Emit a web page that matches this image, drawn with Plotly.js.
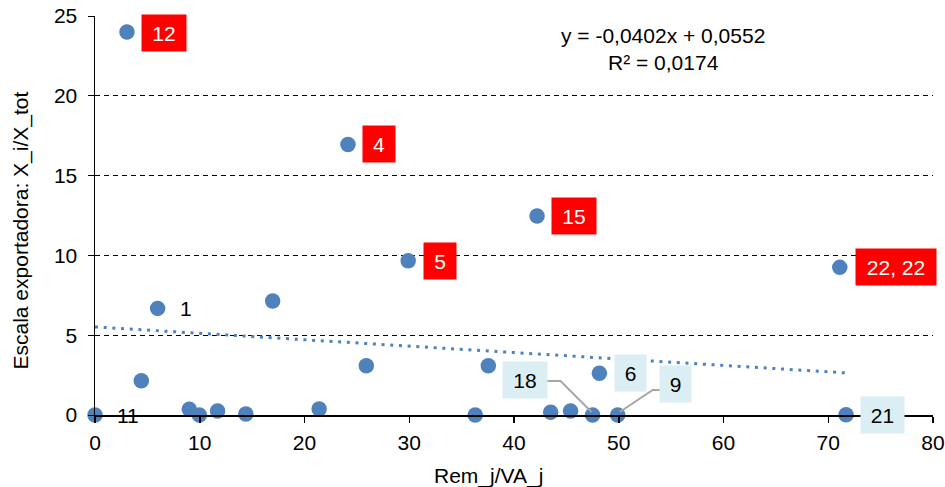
<!DOCTYPE html>
<html>
<head>
<meta charset="utf-8">
<script src="https://cdn.plot.ly/plotly-3.0.1.min.js"></script>
<style>html,body{margin:0;padding:0;background:#fff;}#chart{width:945px;height:487px;}</style>
</head>
<body>
<div id="chart"></div>
<script>
// ---- data ----
const xVals = [3.05, 24.15, 29.9, 42.2, 71.1, 5.98, 16.96, 4.42, 0, 9.0, 9.96, 11.7, 14.4, 21.4, 25.9, 36.3, 37.55, 43.5, 45.4, 47.5, 49.9, 48.15, 71.7];
const yVals = [24.0, 16.95, 9.67, 12.47, 9.25, 6.68, 7.14, 2.15, 0, 0.36, 0.0, 0.25, 0.06, 0.38, 3.09, 0, 3.09, 0.17, 0.25, 0, 0, 2.61, 0.02];
const pointLabels = ['12', '4', '5', '15', '22, 22', '1', '', '', '11', '', '', '', '', '', '', '', '', '', '', '18', '9', '6', '21'];
const trendSlope = -0.0402;     // per unit of x (shown as -0,0402x)
const trendIntercept = 5.52;    // 0,0552 expressed in %
const equationText = 'y = -0,0402x + 0,0552<br>R² = 0,0174';
const xTitle = 'Rem_j/VA_j';
const yTitle = 'Escala exportadora: X_i/X_tot';

// ---- label styling (position offsets in px, box style) ----
const labelStyle = {
  '12':     {dx: 37, dy: -1, kind: 'red', w: 42},
  '4':      {dx: 31, dy: 0, kind: 'red', w: 30},
  '5':      {dx: 32, dy: 0, kind: 'red', w: 30},
  '15':     {dx: 37, dy: 0, kind: 'red', w: 42},
  '22, 22': {dx: 56, dy: 0, kind: 'red', w: 78},
  '21':     {dx: 36, dy: 0, kind: 'blue', w: 41},
  '18':     {dx: -68, dy: 35, kind: 'blue', w: 42},
  '6':      {dx: 31, dy: 0, kind: 'blue', w: 29},
  '9':      {dx: 58, dy: 31, kind: 'blue', w: 29},
  '1':      {dx: 28, dy: 0, kind: 'plain'},
  '11':     {dx: 33, dy: 0, kind: 'plain'}
};
const leaders = {
  '18': 'M -47,34 L -32,34 L -1,3',
  '9':  'M 2,3 L 35,25 L 44,25'
};

const FONT = 'Liberation Sans, Arial, sans-serif';
const FS = 21;
const blue = '#4F81BD';

const annotations = [];
const shapes = [];
pointLabels.forEach((lab, i) => {
  if (!lab) return;
  const st = labelStyle[lab];
  const a = {
    x: xVals[i], y: yVals[i], xref: 'x', yref: 'y',
    text: lab, showarrow: false,
    xshift: st.dx, yshift: st.dy,
    font: {family: FONT, size: FS, color: '#000'}
  };
  if (st.kind === 'red') {
    a.bgcolor = '#FF0000'; a.font.color = '#fff'; a.width = st.w; a.height = 34;
  } else if (st.kind === 'blue') {
    a.bgcolor = '#DAEEF3'; a.width = st.w; a.height = 34;
  }
  annotations.push(a);
  if (leaders[lab]) {
    shapes.push({
      type: 'path', xref: 'x', yref: 'y', xsizemode: 'pixel', ysizemode: 'pixel',
      xanchor: xVals[i], yanchor: yVals[i], path: leaders[lab],
      line: {color: '#A6A6A6', width: 2}, layer: 'above'
    });
  }
});
// regression equation
annotations.push({
  xref: 'paper', yref: 'paper', x: 0.678, y: 0.918, xanchor: 'center', yanchor: 'middle',
  text: equationText, showarrow: false, align: 'center',
  font: {family: FONT, size: FS, color: '#000'}
});
// axis titles (placed as in the reference)
annotations.push({
  xref: 'paper', yref: 'paper', x: -0.088, y: 0.463, xanchor: 'center', yanchor: 'middle',
  text: yTitle, textangle: -90, showarrow: false,
  font: {family: FONT, size: FS, color: '#000'}
});
annotations.push({
  xref: 'paper', yref: 'paper', x: 0.469, y: -0.153, xanchor: 'center', yanchor: 'middle',
  text: xTitle, showarrow: false,
  font: {family: FONT, size: FS, color: '#000'}
});

const xMax = Math.max(...xVals);
const trendX = [0, xMax];
const trendY = trendX.map(v => trendIntercept + trendSlope * v);

const traces = [
  {
    x: trendX, y: trendY, mode: 'lines', type: 'scatter', hoverinfo: 'skip',
    line: {color: blue, width: 3, dash: '3px,5.7px'}, cliponaxis: false
  },
  {
    x: xVals, y: yVals, mode: 'markers', type: 'scatter', cliponaxis: false,
    marker: {color: blue, size: 15.5, line: {width: 0}}
  }
];

const layout = {
  width: 945, height: 487,
  margin: {l: 95, r: 12, t: 16, b: 72},
  paper_bgcolor: '#fff', plot_bgcolor: '#fff',
  showlegend: false,
  font: {family: FONT, size: FS, color: '#000'},
  xaxis: {
    range: [0, 80], dtick: 10, tick0: 0, showgrid: false, zeroline: false,
    showline: true, linecolor: '#000', linewidth: 1.5,
    ticks: 'outside', ticklen: 6, tickcolor: '#000', tickwidth: 1.5,
    ticklabelstandoff: 2,
    tickfont: {family: FONT, size: FS, color: '#000'}
  },
  yaxis: {
    range: [0, 25], dtick: 5, tick0: 0, zeroline: false,
    showgrid: true, gridcolor: '#000', gridwidth: 1, griddash: '5px,4px',
    showline: true, linecolor: '#000', linewidth: 1.5,
    ticks: 'outside', ticklen: 6, tickcolor: '#000', tickwidth: 1,
    ticklabelstandoff: 6,
    tickfont: {family: FONT, size: FS, color: '#000'}
  },
  annotations: annotations,
  shapes: shapes
};

Plotly.newPlot('chart', traces, layout, {displayModeBar: false, staticPlot: true});
</script>
</body>
</html>
